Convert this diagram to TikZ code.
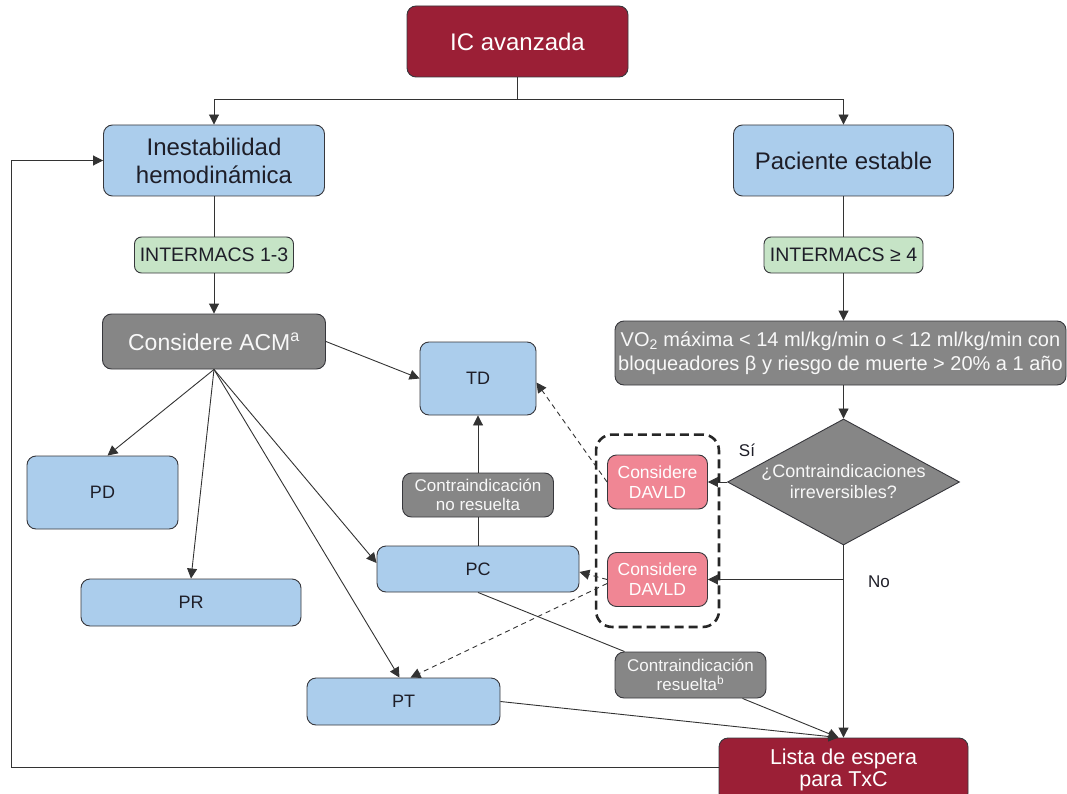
\documentclass[tikz,border=0pt]{standalone}
\usepackage{fontspec}
\setmainfont{Liberation Sans}
\usepackage{tikz}
\usetikzlibrary{arrows.meta}
\usetikzlibrary{shapes.geometric}
\usetikzlibrary{fit}
\definecolor{granate}{RGB}{155,31,54}
\definecolor{celeste}{RGB}{171,205,236}
\definecolor{pistacho}{RGB}{198,228,198}
\definecolor{gris}{RGB}{134,134,134}
\definecolor{rosa}{RGB}{240,134,148}
\definecolor{borde}{RGB}{55,55,60}
\definecolor{tinta}{RGB}{30,30,40}
\newcommand{\fs}[2]{\fontsize{#1}{#2}\selectfont}

\begin{document}
\begin{tikzpicture}[x=1pt,y=-1pt,line width=0.9pt,draw=black!80,
  caja/.style={draw=borde,rounded corners=9pt,align=center,inner sep=0pt,text=tinta},
  final/.style={caja,fill=granate,text=white,font=\fs{24}{24}},
  estado/.style={caja,fill=celeste,font=\fs{24}{28}},
  escala/.style={caja,fill=pistacho,rounded corners=7pt,font=\fs{19.5}{22},minimum width=159,minimum height=36},
  accion/.style={caja,fill=gris,text=white!94!gris},
  opcion/.style={caja,fill=celeste,font=\fs{18}{20}},
  davld/.style={caja,fill=rosa,text=white,font=\fs{17.5}{20},minimum width=100,minimum height=54},
  pregunta/.style={diamond,aspect=1.85,draw=borde,fill=gris,text=white!94!gris,inner sep=0pt,align=center,minimum width=232,minimum height=126,font=\fs{18}{21}},
  grupo/.style={draw=black!85,line width=2.6pt,dash pattern=on 9pt off 5pt,rounded corners=16pt,inner xsep=11pt,inner ysep=20pt},
  flecha/.style={-{Triangle[length=10pt,width=10pt]}},
  punteada/.style={flecha,dash pattern=on 5pt off 4pt},
  marca/.style={text=tinta,font=\fs{17}{20}}
]
  \useasboundingbox (0,0) rectangle (1067,794);
  \node[final,minimum width=221,minimum height=71] (ic) at (517.5,41.5) {IC avanzada};
  \node[estado,minimum width=221,minimum height=71] (inest) at (214,160.5) {Inestabilidad\\hemodinámica};
  \node[estado,minimum width=220,minimum height=71] (estable) at (843.5,160.5) {Paciente estable};
  \node[escala] (im13) at (214,255) {INTERMACS 1-3};
  \node[escala] (im4) at (843.5,255) {INTERMACS ≥ 4};
  \node[accion,minimum width=223,minimum height=55,font=\fs{23}{26}] (acm) at (214,341.5) {Considere ACM\textsuperscript{a}};
  \node[accion,minimum width=451,minimum height=64,font=\fs{20}{24}] (vo2) at (840.5,353) {VO\textsubscript{2} máxima < 14 ml/kg/min o < 12 ml/kg/min con\\bloqueadores β y riesgo de muerte > 20\% a 1 año};
  \node[pregunta] (dia) at (843.5,482) {¿Contraindicaciones\\irreversibles?};
  \node[opcion,minimum width=116,minimum height=73] (td) at (478,378.5) {TD};
  \node[opcion,minimum width=151,minimum height=73] (pd) at (102.5,492.5) {PD};
  \node[opcion,minimum width=220,minimum height=47] (pr) at (191,602.5) {PR};
  \node[opcion,minimum width=202,minimum height=46] (pc) at (478,569) {PC};
  \node[opcion,minimum width=193,minimum height=47] (pt) at (403.5,701.5) {PT};
  \node[accion,minimum width=151,minimum height=44,font=\fs{17}{19}] (nores) at (478,495) {Contraindicación\\no resuelta};
  \node[accion,minimum width=151,minimum height=46,font=\fs{17}{19}] (res) at (690.5,675) {Contraindicación\\resuelta\textsuperscript{b}};
  \node[davld] (davld1) at (657.5,482) {Considere\\DAVLD};
  \node[davld] (davld2) at (657.5,579.5) {Considere\\DAVLD};
  \node[grupo,fit=(davld1)(davld2)] (grupo) {};
  \node[final,minimum width=249,minimum height=64,font=\fs{21.5}{22.5}] (lista) at (843.5,770) {Lista de espera\\para TxC};
  \node[marca] (si) at (747,450) {Sí};
  \node[marca] (no) at (879,582) {No};
  \coordinate (rama) at (517.5,99);
  \coordinate (retorno) at (11,767);

  \draw (ic) -- (rama);
  \draw[flecha] (rama) -| (inest);
  \draw[flecha] (rama) -| (estable);
  \draw (inest) -- (im13);
  \draw[flecha] (im13) -- (acm);
  \draw (estable) -- (im4);
  \draw[flecha] (im4) -- (im4 |- vo2.north);
  \draw[flecha] (vo2.south -| dia) -- (dia);
  \draw[flecha] (dia) -- (davld1);
  \draw (dia) -- (dia |- davld2);
  \draw[flecha] (dia |- davld2) -- (davld2);
  \draw[flecha] (dia) -- (lista);
  \draw[flecha] (acm.east) -- (td.west);
  \draw[flecha] (acm.south) -- ([xshift=5pt]pd.north);
  \draw[flecha] (acm.south) -- (pr.north);
  \draw[flecha] (acm.south) -- ([yshift=6pt]pc.west);
  \draw[flecha] (acm.south) -- ([xshift=-4pt]pt.north);
  \draw (pc) -- (nores);
  \draw[flecha] (nores) -- (td);
  \draw[punteada] (davld1.west) -- ([yshift=-4pt]td.east);
  \draw[punteada] (davld2.west) -- ([yshift=-3pt]pc.east);
  \draw[punteada] ([yshift=-4pt]davld2.west) -- ([xshift=7pt]pt.north);
  \draw (pc.south) -- ([xshift=10pt]res.north west);
  \draw[flecha] ([xshift=52pt]res.south) -- ([xshift=-5pt]lista.north);
  \draw[flecha] (pt.east) -- ([xshift=-5pt]lista.north);
  \draw[flecha] (lista.west |- retorno) -- (retorno) |- (inest);
\end{tikzpicture}
\end{document}
